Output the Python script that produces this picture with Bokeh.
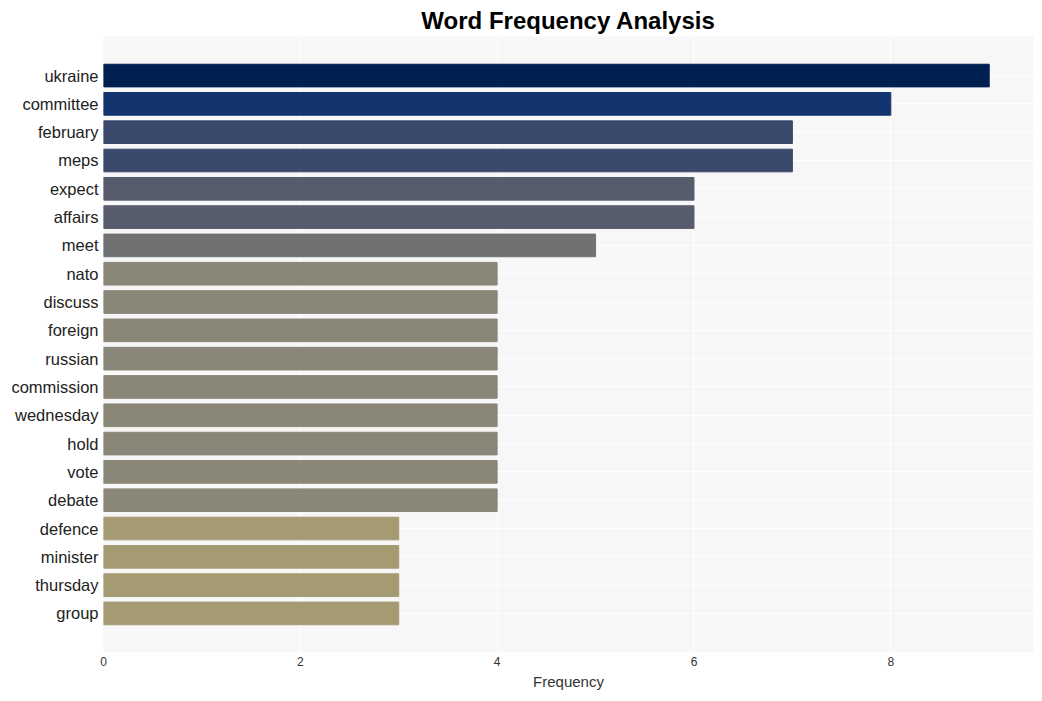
from bokeh.plotting import figure
from bokeh.models import FactorRange, Range1d, FixedTicker
from bokeh.embed import file_html
from bokeh.resources import INLINE

words = ["ukraine", "committee", "february", "meps", "expect", "affairs", "meet",
         "nato", "discuss", "foreign", "russian", "commission", "wednesday", "hold",
         "vote", "debate", "defence", "minister", "thursday", "group"]
counts = [9, 8, 7, 7, 6, 6, 5, 4, 4, 4, 4, 4, 4, 4, 4, 4, 3, 3, 3, 3]
colors = ["#00214f", "#123570", "#3b496c", "#3b496c", "#575c6d", "#575c6d", "#707173",
          "#8a8678", "#8a8678", "#8a8678", "#8a8678", "#8a8678", "#8a8678", "#8a8678",
          "#8a8678", "#8a8678", "#a59b73", "#a59b73", "#a59b73", "#a59b73"]
x_ticks = [0, 2, 4, 6, 8]

factors = list(reversed(words))
p = figure(width=1034, height=693, output_backend="svg", toolbar_location=None,
           y_range=FactorRange(factors=factors, range_padding=0.088),
           x_range=Range1d(0, 9.45),
           title="Word Frequency Analysis",
           min_border_left=103, min_border_right=1, min_border_top=36, min_border_bottom=41)

p.hbar(y=words, right=counts, left=0, height=0.8, color=colors)

p.title.align = "center"
p.title.text_font = "Liberation Sans"
p.title.text_font_size = "24px"
p.title.text_font_style = "bold"
p.title.text_color = "#000000"
p.title.offset = 0
p.title.standoff = 5

p.background_fill_color = "#f7f7f7"
p.border_fill_color = "#ffffff"
p.outline_line_color = None
p.xgrid.grid_line_color = "#ffffff"
p.ygrid.grid_line_color = "#ffffff"
p.xgrid.grid_line_width = 1
p.ygrid.grid_line_width = 1

p.xaxis.ticker = FixedTicker(ticks=x_ticks)
p.xaxis.axis_label = "Frequency"
p.xaxis.axis_label_text_font = "Liberation Sans"
p.xaxis.axis_label_text_font_size = "15px"
p.xaxis.axis_label_text_font_style = "normal"
p.xaxis.axis_label_text_color = "#333333"
p.xaxis.axis_label_standoff = 4
p.xaxis.major_label_text_font = "Liberation Sans"
p.xaxis.major_label_text_font_size = "12px"
p.xaxis.major_label_text_color = "#333333"
p.xaxis.major_label_standoff = 4

p.yaxis.major_label_text_font = "Liberation Sans"
p.yaxis.major_label_text_font_size = "16.5px"
p.yaxis.major_label_text_color = "#222222"
p.yaxis.major_label_standoff = 5

for ax in (p.xaxis, p.yaxis):
    ax.axis_line_color = None
    ax.major_tick_line_color = None
    ax.minor_tick_line_color = None
    ax.major_tick_out = 0
    ax.major_tick_in = 0
    ax.minor_tick_out = 0
    ax.minor_tick_in = 0

open("out.html", "w").write(file_html(p, INLINE))
